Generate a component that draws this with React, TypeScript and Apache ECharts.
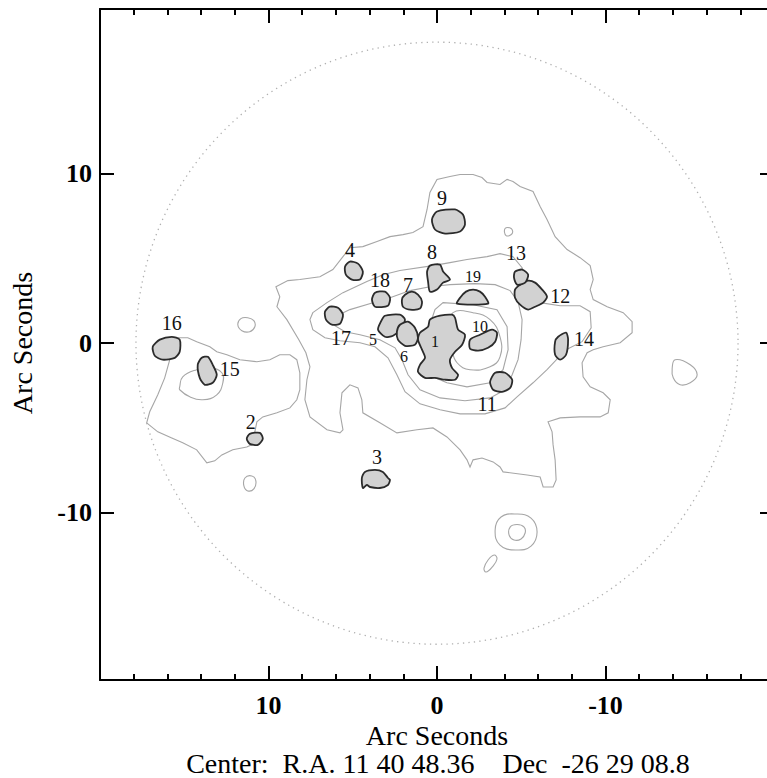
import React, { useEffect, useRef } from "react";
import * as echarts from "echarts";

type Pt = [number, number];

// ---- axes ----
const xTickValues = [10, 0, -10];
const xTickLabels = ["10", "0", "-10"];
const yTickValues = [10, 0, -10];
const yTickLabels = ["10", "0", "-10"];
const yRange: Pt = [-19.84, 19.69];
const axisTitle = "Arc Seconds";
const centerNote = "Center:\u00a0\u00a0R.A. 11 40 48.36\u00a0\u00a0\u00a0\u00a0Dec\u00a0\u00a0-26 29 08.8";

// ---- field of view (arcsec) ----
const fieldCenter: Pt = [0, 0];
const fieldRadius = 17.8;

// ---- contours (arcsec, RA offset, Dec offset) ----
const contourMainOuter: Pt[] = [
  [8.14, 3.75], [6.95, 3.92], [6.18, 4.34], [5.58, 5.1], [5.17, 5.63], [4.4, 5.69], [3.56, 5.99], [2.79, 6.28],
  [2.02, 6.4], [1.43, 6.52], [0.83, 6.87], [0.59, 7.88], [0.42, 8.88], [0, 9.65], [-0.77, 9.82], [-1.37, 9.94],
  [-2.14, 9.94], [-2.67, 9.76], [-2.97, 9.47], [-3.74, 9.35], [-4.16, 9.65], [-4.51, 9.53], [-4.93, 9.23],
  [-5.7, 8.94], [-6.12, 8.05], [-6.53, 7.29], [-7.01, 6.28], [-7.72, 5.52], [-8.49, 5.04], [-9.09, 4.57],
  [-9.27, 3.75], [-9.09, 3.16], [-9.27, 2.57], [-10.1, 2.15], [-11.05, 1.8], [-11.58, 1.27], [-11.58, 0.62],
  [-10.87, 0.03], [-9.86, -0.21], [-9.27, -0.38], [-8.91, -0.56], [-8.61, -1.15], [-8.67, -1.98], [-9.09, -2.57],
  [-9.86, -2.92], [-10.28, -3.33], [-10.16, -4.1], [-9.68, -4.34], [-8.49, -4.34], [-7.31, -4.4], [-6.59, -4.63],
  [-6.83, -5.22], [-6.89, -5.99], [-7.01, -6.87], [-7.07, -8.05], [-6.89, -8.47], [-6.3, -8.47], [-6.12, -7.88],
  [-5.35, -7.76], [-3.92, -7.58], [-3.74, -7.29], [-3.33, -6.99], [-2.67, -6.76], [-2.14, -6.87], [-1.96, -7.29],
  [-1.78, -6.87], [-1.37, -6.28], [-0.59, -5.52], [0.24, -4.99], [1.19, -5.1], [2.38, -5.28], [3.39, -4.69],
  [4.4, -4.1], [4.46, -3.33], [4.69, -2.63], [5.17, -2.45], [5.64, -2.92], [5.76, -4.1], [5.58, -5.1],
  [5.76, -5.28], [6.53, -5.1], [7.54, -4.34], [7.84, -3.33], [7.72, -2.15], [7.54, -1.39], [7.78, -0.56],
  [8.2, 0.21], [8.91, 1.39], [9.5, 2.15], [9.33, 2.74], [9.56, 3.33], [8.85, 3.69],
];
const contourWestLobe: Pt[] = [
  [15.38, 0.32], [14.79, 0.32], [14.26, 0.09], [13.48, -0.21], [13.07, -0.5], [12.47, -0.68], [11.7, -0.97],
  [10.69, -1.09], [9.92, -0.97], [9.33, -0.68], [8.73, -0.68], [8.32, -0.97], [8.14, -1.74], [8.14, -2.74],
  [8.32, -3.33], [8.73, -3.81], [9.5, -4.1], [10.34, -4.34], [10.69, -4.63], [10.81, -5.22], [10.75, -5.87],
  [11.29, -6.11], [12.12, -6.28], [12.77, -6.58], [13.19, -6.93], [13.66, -7.05], [14.26, -6.28], [15.09, -5.87],
  [15.74, -5.58], [16.57, -5.22], [17.23, -4.69], [17.05, -4.04], [16.57, -3.04], [16.16, -2.04], [15.86, -0.97],
  [15.98, -0.27],
];
const contourWestInner: Pt[] = [
  [15.27, -2.57], [15.09, -1.98], [14.26, -1.56], [13.48, -1.45], [12.77, -1.74], [12.71, -2.33], [13.07, -3.04],
  [13.9, -3.33], [14.67, -3.16], [15.27, -2.74],
];
const contourLevel2: Pt[] = [
  [7.37, 1.8], [6.53, 2.39], [5.58, 2.98], [4.16, 3.63], [3.21, 4.04], [2.2, 4.28], [0.24, 4.57], [-0.77, 4.75],
  [-1.78, 4.93], [-2.97, 5.1], [-3.74, 5.28], [-4.51, 5.1], [-5.05, 4.45], [-5.35, 3.45], [-6.12, 2.39],
  [-7.31, 2.21], [-8.49, 2.21], [-9.09, 1.86], [-9.15, 0.91], [-8.61, 0.09], [-7.66, -0.38], [-7.19, -0.86],
  [-6.53, -1.56], [-5.7, -2.33], [-4.75, -3.16], [-4.04, -3.81], [-2.85, -4.16], [-1.37, -4.16], [-0.18, -3.92],
  [1.01, -3.57], [1.9, -2.86], [2.38, -1.86], [2.91, -0.86], [3.68, -0.21], [4.57, 0.03], [5.76, 0.15],
  [6.65, 0.32], [7.37, 0.8], [7.54, 1.39],
];
const contourLevel3: Pt[] = [
  [6.18, 1.5], [5.17, 1.98], [3.8, 2.39], [2.79, 2.68], [1.6, 3.1], [0.42, 3.33], [-0.77, 3.45], [-2.26, 3.51],
  [-3.45, 3.45], [-4.34, 3.1], [-4.81, 2.45], [-5.05, 1.39], [-4.99, 0.21], [-4.81, -0.97], [-4.46, -1.86],
  [-4.04, -2.74], [-3.15, -3.22], [-1.66, -3.39], [-0.18, -3.22], [1.01, -2.74], [1.72, -1.86], [2.08, -0.97],
  [2.49, -0.27], [3.39, 0.21], [4.57, 0.5], [5.46, 0.68], [6.06, 1.03],
];
const contourLevel4: Pt[] = [
  [-0.36, 2.39], [-2.14, 2.27], [-3.56, 1.98], [-4.16, 0.97], [-4.22, -0.38], [-3.92, -1.56], [-3.15, -2.33],
  [-1.78, -2.57], [-0.59, -2.33], [0.24, -1.98], [0.53, -0.68], [0.42, 1.09], [0.12, 1.98],
];
const contourLevel5: Pt[] = [
  [-0.95, 1.8], [-2.14, 1.8], [-3.15, 1.39], [-3.74, 0.38], [-3.74, -0.8], [-3.15, -1.39], [-1.96, -1.56],
  [-1.19, -1.15], [-0.89, -0.38], [-0.77, 0.8],
];
const loopWestNorth: Pt[] = [[11.82, 1.09], [11.64, 1.45], [11.23, 1.5], [10.87, 1.33], [10.81, 0.97], [11.11, 0.68], [11.58, 0.74]];
const loopWestSouth: Pt[] = [[11.4, -7.94], [10.99, -7.82], [10.75, -8.11], [10.87, -8.58], [11.23, -8.7], [11.46, -8.41]];
const loopEast: Pt[] = [[-14.14, -0.97], [-15.03, -1.27], [-15.44, -1.86], [-15.03, -2.33], [-14.43, -2.45], [-14.02, -2.04], [-13.96, -1.45]];
const loopSouthOuter: Pt[] = [[-4.69, -10.06], [-5.58, -10.3], [-5.94, -11.12], [-5.58, -11.95], [-4.69, -12.18], [-3.74, -11.89], [-3.45, -11.0], [-3.8, -10.24]];
const loopSouthInner: Pt[] = [[-4.75, -10.68], [-5.17, -10.83], [-5.23, -11.18], [-4.99, -11.53], [-4.57, -11.59], [-4.28, -11.3], [-4.34, -10.83]];
const loopSouthSmall: Pt[] = [[-3.39, -12.48], [-3.56, -12.71], [-3.27, -13.19], [-2.91, -13.48], [-2.79, -13.25], [-3.03, -12.77]];
const loopNorthTiny: Pt[] = [[-4.04, 6.76], [-4.4, 6.76], [-4.46, 6.46], [-4.1, 6.34]];

const contours: Pt[][] = [
  contourMainOuter, contourWestLobe, contourWestInner, contourLevel2, contourLevel3, contourLevel4, contourLevel5,
  loopWestNorth, loopWestSouth, loopEast, loopSouthOuter, loopSouthInner, loopSouthSmall, loopNorthTiny,
];

// ---- numbered sources ----
const sourceIds = ["1", "2", "3", "4", "5", "6", "7", "8", "9", "10", "11", "12", "13", "14", "15", "16", "17", "18", "19"];
const sourceOutlines: Pt[][] = [
  [[0.42, 1.39], [-0.18, 1.62], [-0.89, 1.68], [-1.07, 1.5], [-1.25, 0.8], [-1.66, 0.5], [-1.49, -0.09], [-1.07, -0.5],
   [-0.77, -0.97], [-0.89, -1.45], [-1.25, -1.86], [-1.07, -2.15], [-0.48, -2.15], [0.12, -2.04], [0.71, -2.04],
   [1.13, -1.68], [1.01, -1.27], [0.71, -0.86], [0.89, -0.38], [1.13, 0.21], [1.01, 0.62], [0.53, 0.97]],
  [[11.11, -5.34], [10.51, -5.28], [10.34, -5.63], [10.63, -5.99], [11.11, -5.93], [11.29, -5.63]],
  [[4.28, -7.58], [3.68, -7.46], [3.21, -7.58], [2.91, -7.94], [2.79, -8.05], [2.91, -8.35], [3.39, -8.53],
   [3.98, -8.47], [4.16, -8.35], [4.4, -8.53], [4.46, -7.94]],
  [[5.17, 4.81], [4.69, 4.69], [4.4, 4.22], [4.57, 3.75], [5.05, 3.75], [5.41, 4.04], [5.46, 4.51]],
  [[3.09, 1.62], [2.2, 1.68], [1.9, 1.39], [2.2, 0.8], [2.61, 0.44], [3.09, 0.38], [3.5, 0.8], [3.33, 1.27]],
  [[2.2, 1.09], [1.72, 1.27], [1.31, 0.91], [1.13, 0.32], [1.31, -0.09], [1.9, -0.15], [2.32, 0.21], [2.38, 0.68]],
  [[1.9, 2.86], [1.49, 3.04], [1.13, 2.86], [0.89, 2.45], [1.01, 2.04], [1.6, 1.98], [2.02, 2.15], [2.08, 2.57]],
  [[0.42, 4.57], [-0.18, 4.63], [-0.36, 4.22], [-0.77, 3.75], [-0.36, 3.57], [0, 3.16], [0.42, 3.04], [0.53, 3.63], [0.59, 4.22]],
  [[0, 7.76], [-1.07, 7.88], [-1.54, 7.58], [-1.66, 6.99], [-1.37, 6.58], [-0.48, 6.46], [0.12, 6.7], [0.3, 7.29]],
  [[-2.55, 0.5], [-3.27, 0.8], [-3.56, 0.62], [-3.45, 0.09], [-3.03, -0.27], [-2.44, -0.44], [-1.96, -0.32], [-1.96, 0.21]],
  [[-3.45, -1.74], [-4.04, -1.74], [-4.46, -2.15], [-4.34, -2.63], [-3.86, -2.86], [-3.33, -2.74], [-3.15, -2.27]],
  [[-4.93, 3.45], [-5.41, 3.69], [-5.82, 3.57], [-6.24, 3.16], [-6.53, 2.74], [-6.3, 2.39], [-5.82, 2.15],
   [-5.41, 1.98], [-4.93, 2.27], [-4.63, 2.68], [-4.63, 3.16]],
  [[-4.63, 4.22], [-5.05, 4.34], [-5.41, 4.04], [-5.23, 3.57], [-4.75, 3.45], [-4.57, 3.86]],
  [[-7.19, 0.38], [-7.66, 0.62], [-7.78, 0.21], [-7.66, -0.68], [-7.31, -0.97], [-7.01, -0.68], [-7.01, 0.09]],
  [[13.96, -0.86], [13.6, -0.8], [13.31, -1.27], [13.07, -1.86], [13.31, -2.33], [13.78, -2.45], [14.08, -2.04], [14.2, -1.27]],
  [[16.45, 0.21], [15.74, 0.38], [15.27, 0.21], [15.27, -0.5], [15.56, -0.86], [16.28, -0.97], [16.75, -0.74], [16.87, -0.21]],
  [[6.36, 2.15], [5.88, 2.09], [5.58, 1.68], [5.76, 1.15], [6.24, 1.09], [6.59, 1.39], [6.65, 1.86]],
  [[3.68, 2.98], [3.09, 3.04], [2.79, 2.68], [2.91, 2.21], [3.68, 2.15], [3.86, 2.57]],
  [[-1.19, 2.33], [-1.37, 2.68], [-1.72, 3.04], [-2.14, 3.16], [-2.55, 3.04], [-2.85, 2.74], [-3.03, 2.33]],
];
const sourceLabelPos: Pt[] = [
  [0.12, 0.09], [11.05, -4.63], [3.56, -6.7], [5.17, 5.52], [3.8, 0.21], [1.96, -0.8], [1.72, 3.45], [0.3, 5.4],
  [-0.3, 8.58], [-2.55, 0.97], [-2.97, -3.57], [-7.31, 2.8], [-4.69, 5.34], [-8.73, 0.27], [12.3, -1.5],
  [15.74, 1.21], [5.7, 0.32], [3.39, 3.75], [-2.14, 3.92],
];
const smallLabelIds = ["1", "5", "6", "10", "19"];

const SERIF = '"Liberation Serif", "Times New Roman", serif';

function buildOption() {
  const tickFmt = (vals: number[], labels: string[]) => (v: number) => {
    const i = vals.findIndex((t) => Math.abs(t - v) < 1e-6);
    return i >= 0 ? labels[i] : "";
  };
  const axisLine = { show: true, onZero: false, lineStyle: { color: "#000", width: 2 } };
  const axisTick = { show: true, inside: true, length: 14, lineStyle: { color: "#000", width: 2 } };
  const minorTick = { show: true, splitNumber: 5, length: 6, lineStyle: { color: "#000", width: 2 } };
  const baseX = {
    type: "value",
    min: -20,
    max: 20,
    interval: 10,
    inverse: true,
    axisLine,
    axisTick,
    minorTick,
    splitLine: { show: false },
    minorSplitLine: { show: false },
  };
  const baseY = {
    type: "value",
    min: yRange[0],
    max: yRange[1],
    axisLine,
    axisTick: { ...axisTick, customValues: yTickValues },
    splitLine: { show: false },
  };
  const labelStyle = { fontFamily: SERIF, fontSize: 26, fontWeight: "bold", color: "#000" };
  const textStyle = (size: number) => ({
    font: `${size}px ${SERIF}`,
    fill: "#000",
    align: "center",
    verticalAlign: "middle",
    textAlign: "center",
    textVerticalAlign: "middle",
  });

  return {
    animation: false,
    backgroundColor: "#ffffff",
    grid: { left: 100, top: 9, width: 674, height: 671, containLabel: false, outerBoundsMode: "none" },
    xAxis: [
      { ...baseX, position: "bottom", axisLabel: { ...labelStyle, margin: 12, formatter: tickFmt(xTickValues, xTickLabels) } },
      { ...baseX, position: "top", axisLabel: { show: false } },
    ],
    yAxis: [
      {
        ...baseY,
        position: "left",
        axisLabel: { ...labelStyle, margin: 8, customValues: yTickValues, formatter: tickFmt(yTickValues, yTickLabels) },
      },
      { ...baseY, position: "right", axisLabel: { show: false } },
    ],
    series: [
      {
        type: "custom",
        name: "field",
        silent: true,
        data: [[fieldCenter[0], fieldCenter[1], fieldRadius]],
        renderItem: (_p: any, api: any) => {
          const c = api.coord([api.value(0), api.value(1)]);
          const s = api.size([api.value(2), api.value(2)]);
          const r = (s[0] + s[1]) / 2;
          return {
            type: "circle",
            shape: { cx: c[0], cy: c[1], r },
            style: { fill: "none", stroke: "#b0b0b0", lineWidth: 1.3, lineDash: [1.3, 4.2] },
          };
        },
      },
      {
        type: "custom",
        name: "contours",
        silent: true,
        data: contours.map((c, i) => [c[0][0], c[0][1], i]),
        renderItem: (_p: any, api: any) => {
          const c = contours[api.value(2)];
          const pts = c.map((p) => api.coord(p));
          return {
            type: "polygon",
            shape: { points: pts, smooth: c.length < 12 ? 0.45 : 0 },
            style: { fill: "none", stroke: "#a6a6a6", lineWidth: 1.1 },
          };
        },
      },
      {
        type: "custom",
        name: "sources",
        silent: true,
        data: sourceOutlines.map((c, i) => [c[0][0], c[0][1], i]),
        renderItem: (_p: any, api: any) => {
          const c = sourceOutlines[api.value(2)];
          const pts = c.map((p) => api.coord(p));
          return {
            type: "polygon",
            shape: { points: pts, smooth: 0.25 },
            style: { fill: "#d2d2d2", stroke: "#2b2b2b", lineWidth: 1.8 },
          };
        },
      },
      {
        type: "custom",
        name: "labels",
        silent: true,
        data: sourceLabelPos.map((p, i) => [p[0], p[1], i]),
        renderItem: (_p: any, api: any) => {
          const i = api.value(2);
          const c = api.coord([api.value(0), api.value(1)]);
          const id = sourceIds[i];
          const size = smallLabelIds.includes(id) ? 16 : 20;
          return {
            type: "text",
            x: c[0],
            y: c[1],
            style: { text: id, font: `${size}px ${SERIF}`, fill: "#111", align: "center", verticalAlign: "middle" },
          };
        },
      },
    ],
    graphic: [
      { type: "text", x: 22, y: 343, rotation: Math.PI / 2, style: { text: axisTitle, ...textStyle(28) } },
      { type: "text", x: 437, y: 735, style: { text: axisTitle, ...textStyle(28) } },
      { type: "text", x: 438, y: 763, style: { text: centerNote, ...textStyle(28) } },
    ],
  };
}

export default function App() {
  const ref = useRef<HTMLDivElement>(null);
  useEffect(() => {
    if (!ref.current) return;
    const chart = echarts.init(ref.current, null, { renderer: "svg" });
    chart.setOption(buildOption() as any);
    return () => chart.dispose();
  }, []);
  return (
    <div
      ref={ref}
      style={{ position: "absolute", left: 0, top: 0, width: 767, height: 778, overflow: "hidden", background: "#fff" }}
    />
  );
}
